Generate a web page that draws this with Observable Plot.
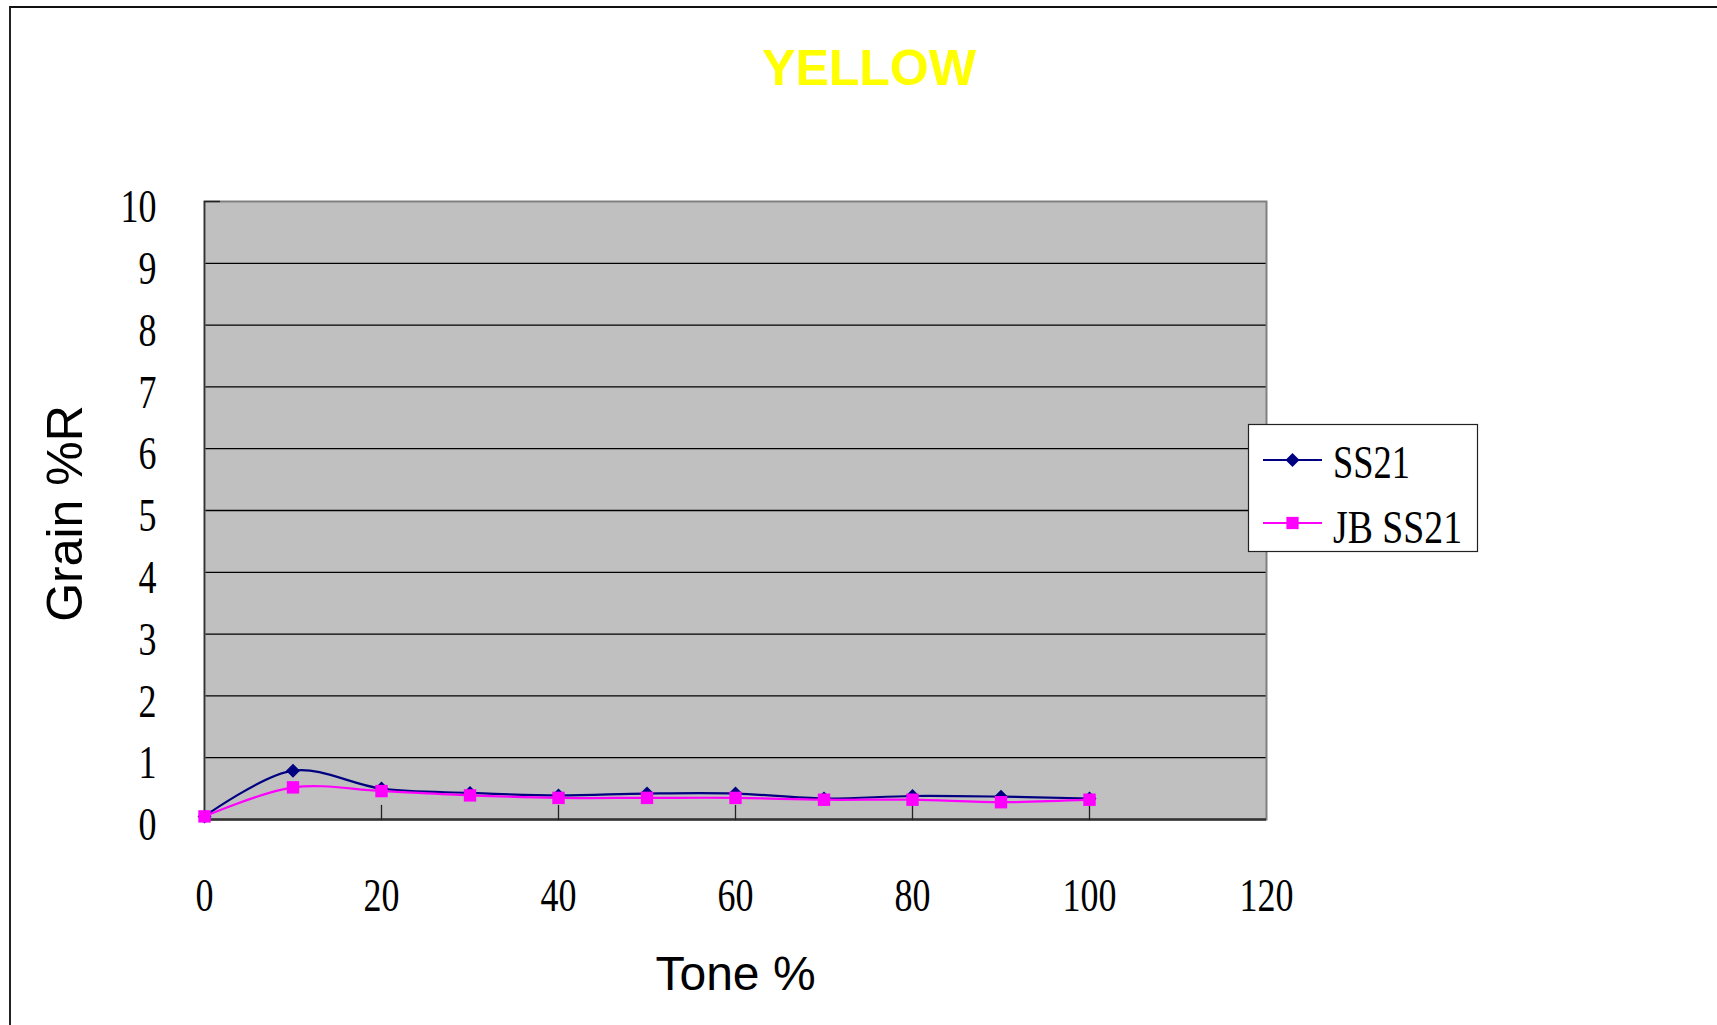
<!DOCTYPE html>
<html>
<head>
<meta charset="utf-8">
<script src="https://cdn.jsdelivr.net/npm/d3@7"></script>
<script src="https://cdn.jsdelivr.net/npm/@observablehq/plot@0.6"></script>
<style>
  html, body { margin: 0; padding: 0; background: #fff; }
  #wrap { position: relative; width: 1717px; height: 1025px; overflow: hidden; background: #fff; }
  #border { position: absolute; left: 9px; top: 6px; width: 1720px; height: 1030px;
            border-left: 2px solid #222; border-top: 2px solid #111; box-sizing: border-box; }
  #title { position: absolute; left: 0; width: 1738px; top: 38px; text-align: center;
           font: bold 50px "Liberation Sans", Arial, sans-serif; color: #ffff00; line-height: 60px; }
  #chart { position: absolute; left: 0; top: 0; }
  #legend { position: absolute; left: 1248px; top: 424px; }
</style>
</head>
<body>
<div id="wrap">
  <div id="border"></div>
  <div id="chart"></div>
  <div id="title">YELLOW</div>
  <div id="legend"></div>
</div>
<script>
// ---- data ----
const tone = [0, 10, 20, 30, 40, 50, 60, 70, 80, 90, 100];
const ss21 = [0.05, 0.79, 0.50, 0.43, 0.39, 0.42, 0.42, 0.34, 0.38, 0.37, 0.34];
const jbSs21 = [0.05, 0.52, 0.46, 0.39, 0.35, 0.35, 0.35, 0.32, 0.32, 0.28, 0.32];
const seriesNames = ["SS21", "JB SS21"];
const seriesColors = ["#000080", "#ff00ff"];
const xTicks = [0, 20, 40, 60, 80, 100, 120];
const yTicks = [0, 1, 2, 3, 4, 5, 6, 7, 8, 9, 10];
const xDomain = [0, 120];
const yDomain = [0, 10];

const rowsA = tone.map((t, i) => ({tone: t, grain: ss21[i], series: seriesNames[0]}));
const rowsB = tone.map((t, i) => ({tone: t, grain: jbSs21[i], series: seriesNames[1]}));

const tickShapeUp = {draw(ctx, l) { ctx.moveTo(0, 0); ctx.lineTo(0, -l); }};

const plot = Plot.plot({
  width: 1717,
  height: 1025,
  marginLeft: 204,
  marginRight: 451,
  marginTop: 201,
  marginBottom: 206,
  style: {background: "transparent", color: "#000"},
  x: {domain: xDomain, label: null},
  y: {domain: yDomain, label: null},
  marks: [
    Plot.frame({fill: "#c0c0c0", stroke: null}),
    Plot.ruleY(yTicks.slice(1, -1), {stroke: "#000", strokeWidth: 1.3}),
    Plot.frame({stroke: "#808080", strokeWidth: 2}),
    Plot.ruleX([xDomain[0]], {stroke: "#333", strokeWidth: 1.5}),
    Plot.ruleY([yDomain[0]], {stroke: "#333", strokeWidth: 2.5}),
    Plot.vector(xTicks.slice(1, -1), {x: d => d, frameAnchor: "bottom", length: 14, anchor: "start",
      shape: tickShapeUp, stroke: "#222", strokeWidth: 1.3}),
    Plot.vector([yDomain[1]], {y: d => d, frameAnchor: "left", length: 15, anchor: "start", rotate: 90,
      shape: tickShapeUp, stroke: "#222", strokeWidth: 1.5}),
    Plot.axisX({ticks: xTicks, tickSize: 0, tickPadding: 59, fontSize: 46,
      fontFamily: "Liberation Serif, Times New Roman, serif", fill: "#000"}),
    Plot.axisY({ticks: yTicks, tickSize: 0, tickPadding: 48, fontSize: 46, dy: 6,
      fontFamily: "Liberation Serif, Times New Roman, serif", fill: "#000"}),
    Plot.line(rowsA, {x: "tone", y: "grain", stroke: seriesColors[0], strokeWidth: 2.2, curve: "catmull-rom"}),
    Plot.dot(rowsA, {x: "tone", y: "grain", symbol: "diamond2", fill: seriesColors[0], stroke: null, r: 6.3}),
    Plot.line(rowsB, {x: "tone", y: "grain", stroke: seriesColors[1], strokeWidth: 2.2, curve: "catmull-rom"}),
    Plot.dot(rowsB, {x: "tone", y: "grain", symbol: "square", fill: seriesColors[1], stroke: null, r: 7}),
    Plot.text(["Tone %"], {frameAnchor: "bottom", lineAnchor: "bottom", dy: 170, fontSize: 48,
      fontFamily: "Liberation Sans, Arial, sans-serif", fill: "#000"}),
    Plot.text(["Grain %R"], {frameAnchor: "left", textAnchor: "middle", lineAnchor: "middle", rotate: -90,
      dx: -139, dy: 3, fontSize: 50, fontFamily: "Liberation Sans, Arial, sans-serif", fill: "#000"})
  ]
});
document.getElementById("chart").appendChild(plot);

// compress serif tick labels to match the narrow original glyphs
d3.select(plot).selectAll('g[aria-label="x-axis tick label"] text, g[aria-label="y-axis tick label"] text')
  .each(function() {
    const n = this.textContent.length;
    this.setAttribute("textLength", 18 * n);
    this.setAttribute("lengthAdjust", "spacingAndGlyphs");
  });

// legend
const lg = d3.select("#legend").append("svg").attr("width", 280).attr("height", 129)
  .style("overflow", "visible");
lg.append("rect").attr("x", 0.5).attr("y", 0.5).attr("width", 229).attr("height", 127)
  .attr("fill", "#fff").attr("stroke", "#222").attr("stroke-width", 1.2);
const legendWidths = [77, 129];
seriesNames.forEach((name, i) => {
  const cy = 36 + i * 63;
  lg.append("line").attr("x1", 15).attr("x2", 74).attr("y1", cy).attr("y2", cy)
    .attr("stroke", seriesColors[i]).attr("stroke-width", 2.2);
  lg.append("path")
    .attr("transform", `translate(44.5,${cy})`)
    .attr("d", d3.symbol(i === 0 ? d3.symbolDiamond2 : d3.symbolSquare, i === 0 ? 125 : 150)())
    .attr("fill", seriesColors[i]);
  lg.append("text").attr("x", 85).attr("y", cy + 18 + i * 2)
    .attr("font-family", "Liberation Serif, Times New Roman, serif").attr("font-size", 46)
    .attr("textLength", legendWidths[i]).attr("lengthAdjust", "spacingAndGlyphs")
    .attr("fill", "#000").text(name);
});
</script>
</body>
</html>
